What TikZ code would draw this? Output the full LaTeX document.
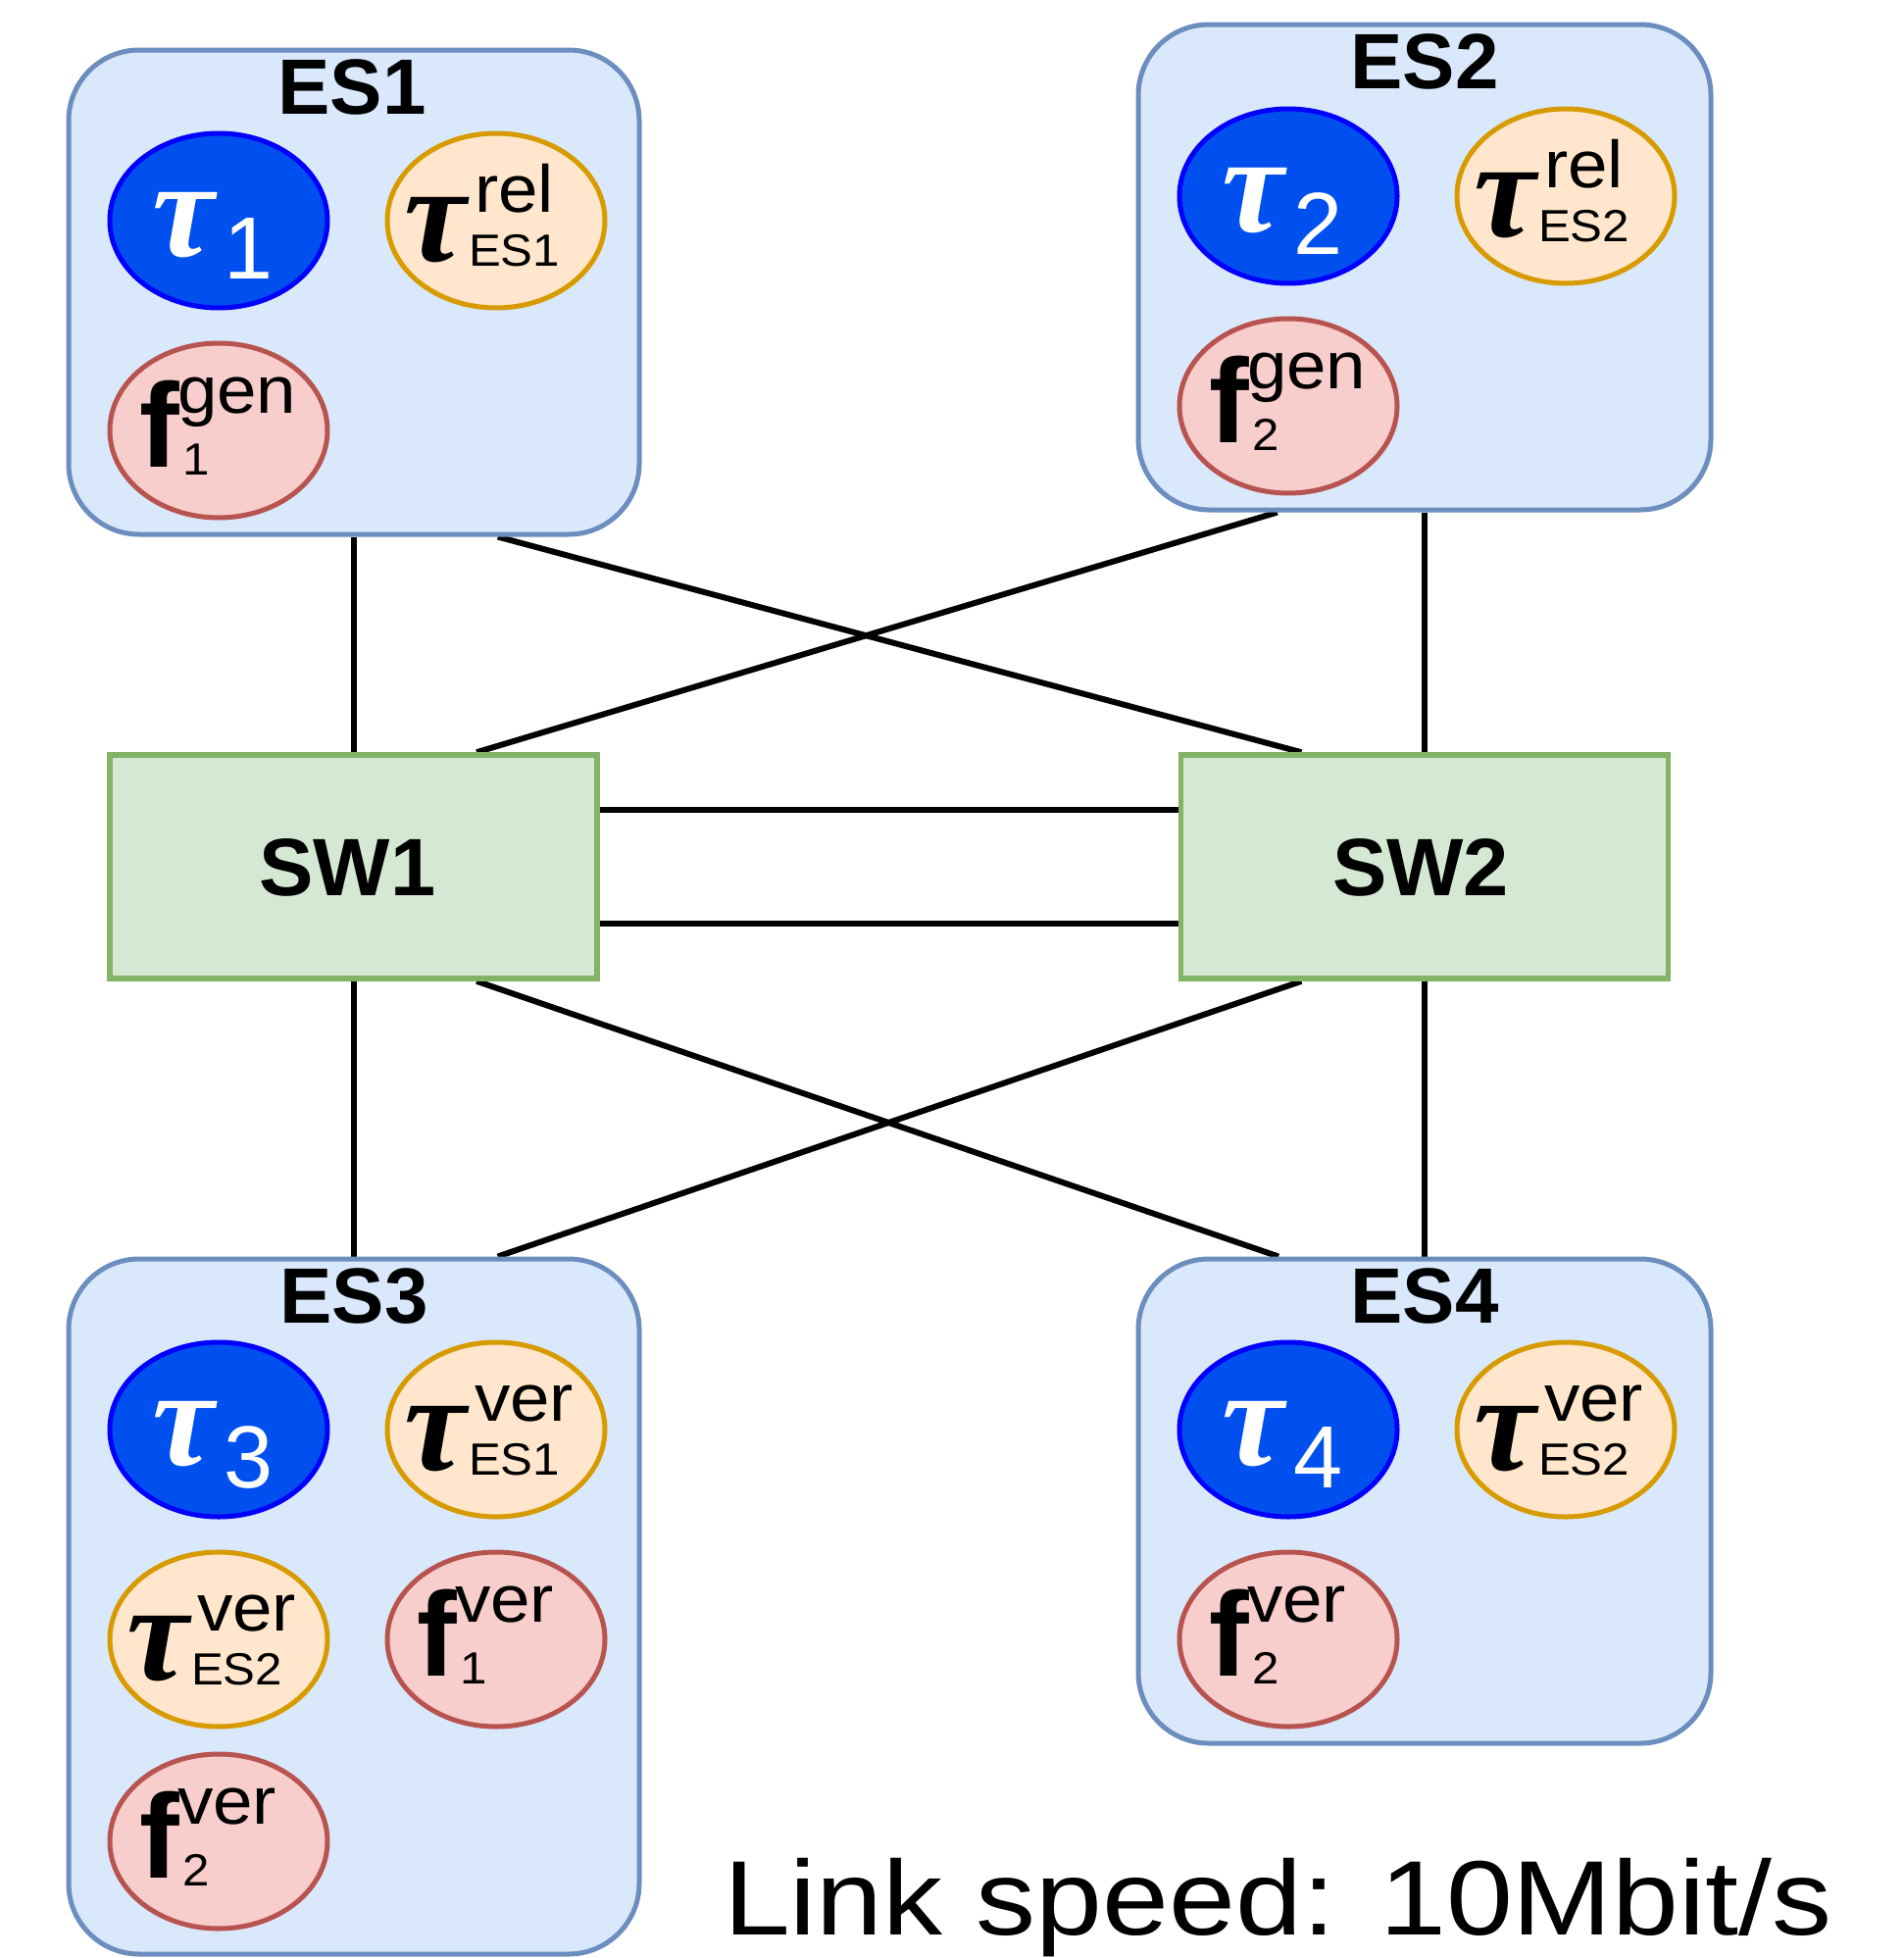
\documentclass[tikz,border=0pt]{standalone}
\usepackage{fontspec}
\setmainfont{Liberation Sans}
\newfontfamily\gkfont{Liberation Serif}
\newfontfamily\linkfont{Liberation Sans}[FakeStretch=1.13]
\newfontfamily\smallfont{Liberation Sans}[FakeStretch=1.07]
\usetikzlibrary{calc,shapes.geometric}
\definecolor{esfill}{HTML}{DAE8FC}
\definecolor{esdraw}{HTML}{6C8EBF}
\definecolor{swfill}{HTML}{D5E8D4}
\definecolor{swdraw}{HTML}{82B366}
\definecolor{bluefill}{HTML}{0050EF}
\definecolor{bluedraw}{HTML}{0000FF}
\definecolor{orfill}{HTML}{FFE6CC}
\definecolor{ordraw}{HTML}{D79B00}
\definecolor{rdfill}{HTML}{F8CECC}
\definecolor{rddraw}{HTML}{B85450}
\pgfdeclarelayer{bg}
\pgfsetlayers{bg,main}
\tikzset{
  esbox/.style={draw=esdraw, fill=esfill, line width=5pt, rounded corners=72pt, inner sep=0pt},
  swbox/.style={draw=swdraw, fill=swfill, line width=5.5pt, inner sep=0pt, minimum width=497pt, minimum height=228pt},
  task/.style={ellipse, line width=5pt, minimum width=222pt, minimum height=178pt, inner sep=0pt},
  bluetask/.style={task, draw=bluedraw, fill=bluefill},
  orangetask/.style={task, draw=ordraw, fill=orfill},
  flowtask/.style={task, draw=rddraw, fill=rdfill},
  txt/.style={anchor=base west, inner sep=0pt, outer sep=0pt},
  taufnt/.style={font={\gkfont\bfseries\itshape\fontsize{142}{142}\selectfont}},
  bigf/.style={font={\bfseries\fontsize{122}{122}\selectfont}},
  supfnt/.style={font={\smallfont\fontsize{68}{68}\selectfont}},
  subfnt/.style={font={\smallfont\fontsize{46}{46}\selectfont}},
  digfnt/.style={font={\fontsize{90}{90}\selectfont}},
  title/.style={anchor=base, inner sep=0pt, font={\bfseries\fontsize{80}{80}\selectfont}},
  swtitle/.style={anchor=base, inner sep=0pt, font={\bfseries\fontsize{83}{83}\selectfont}},
  link/.style={line width=6pt, black},
}
\newcommand\bluetau[3]{%
  \node[bluetask] (#1) at (#2) {};
  \node[txt, taufnt, text=white] (#1-t) at ($(#1.center)+(-68,36)$) {τ};
  \node[txt, digfnt, text=white] (#1-d) at ($(#1.center)+(5,59)$) {#3};
}
\newcommand\orangetau[4]{%
  \node[orangetask] (#1) at (#2) {};
  \node[txt, taufnt] (#1-t) at ($(#1.center)+(-94,41)$) {τ};
  \node[txt, supfnt] (#1-p) at ($(#1.center)+(-22,-9)$) {#3};
  \node[txt, subfnt] (#1-b) at ($(#1.center)+(-28,46)$) {#4};
}
\newcommand\flowf[4]{%
  \node[flowtask] (#1) at (#2) {};
  \node[txt, bigf] (#1-f) at ($(#1.center)+(-81,37)$) {f};
  \node[txt, supfnt] (#1-p) at ($(#1.center)+(-42,-18)$) {#3};
  \node[txt, subfnt] (#1-b) at ($(#1.center)+(-37,45)$) {#4};
}
\begin{document}
\begin{tikzpicture}[x=1pt, y=-1pt]
\useasboundingbox (0,0) rectangle (1942,1997);
% end systems
\node[esbox, minimum width=582pt, minimum height=494pt] (es1) at (361,298) {};
\node[esbox, minimum width=584pt, minimum height=495pt] (es2) at (1453,272.5) {};
\node[esbox, minimum width=582pt, minimum height=709pt] (es3) at (361,1638.5) {};
\node[esbox, minimum width=584pt, minimum height=494pt] (es4) at (1453,1531) {};
\node[title] (es1-l) at ($(es1.north)+(-2,68)$) {ES1};
\node[title] (es2-l) at ($(es2.north)+(0,68)$) {ES2};
\node[title] (es3-l) at ($(es3.north)+(0,68)$) {ES3};
\node[title] (es4-l) at ($(es4.north)+(0,68)$) {ES4};
% switches
\node[swbox] (sw1) at (360.5,884) {};
\node[swbox] (sw2) at (1453,884) {};
\node[swtitle] (sw1-l) at ($(sw1.center)+(-6,29)$) {SW1};
\node[swtitle] (sw2-l) at ($(sw2.center)+(-4,29)$) {SW2};
% ES1
\bluetau{t1}{223,225}{1}
\orangetau{r1}{506,225}{rel}{ES1}
\flowf{g1}{223,439}{gen}{1}
% ES2
\bluetau{t2}{1314,200}{2}
\orangetau{r2}{1597,200}{rel}{ES2}
\flowf{g2}{1314,414}{gen}{2}
% ES3
\bluetau{t3}{223,1458}{3}
\orangetau{v31}{506,1458}{ver}{ES1}
\orangetau{v32}{223,1672}{ver}{ES2}
\flowf{f31}{506,1672}{ver}{1}
\flowf{f32}{223,1878}{ver}{2}
% ES4
\bluetau{t4}{1314,1458}{4}
\orangetau{v42}{1597,1458}{ver}{ES2}
\flowf{f42}{1314,1672}{ver}{2}
% links
\begin{pgfonlayer}{bg}
\draw[link] (es1.south) -- (es1.south |- sw1.north);
\draw[link] ($(es1.south west)!0.75!(es1.south east)$) -- ($(sw2.north west)!0.25!(sw2.north east)$);
\draw[link] ($(es2.south west)!0.245!(es2.south east)$) -- ($(sw1.north west)!0.75!(sw1.north east)$);
\draw[link] (es2.south) -- (sw2.north);
\draw[link] ($(sw1.north east)!0.25!(sw1.south east)$) -- ($(sw2.north west)!0.25!(sw2.south west)$);
\draw[link] ($(sw1.north east)!0.75!(sw1.south east)$) -- ($(sw2.north west)!0.75!(sw2.south west)$);
\draw[link] (es3.north) -- (es3.north |- sw1.south);
\draw[link] ($(sw1.south west)!0.75!(sw1.south east)$) -- ($(es4.north west)!0.247!(es4.north east)$);
\draw[link] ($(sw2.south west)!0.25!(sw2.south east)$) -- ($(es3.north west)!0.75!(es3.north east)$);
\draw[link] (sw2.south) -- (es4.north);
\end{pgfonlayer}
\node[txt, font={\linkfont\fontsize{108}{108}\selectfont}] (speed) at (738,1973) {Link speed: 10Mbit/s};
\end{tikzpicture}
\end{document}
